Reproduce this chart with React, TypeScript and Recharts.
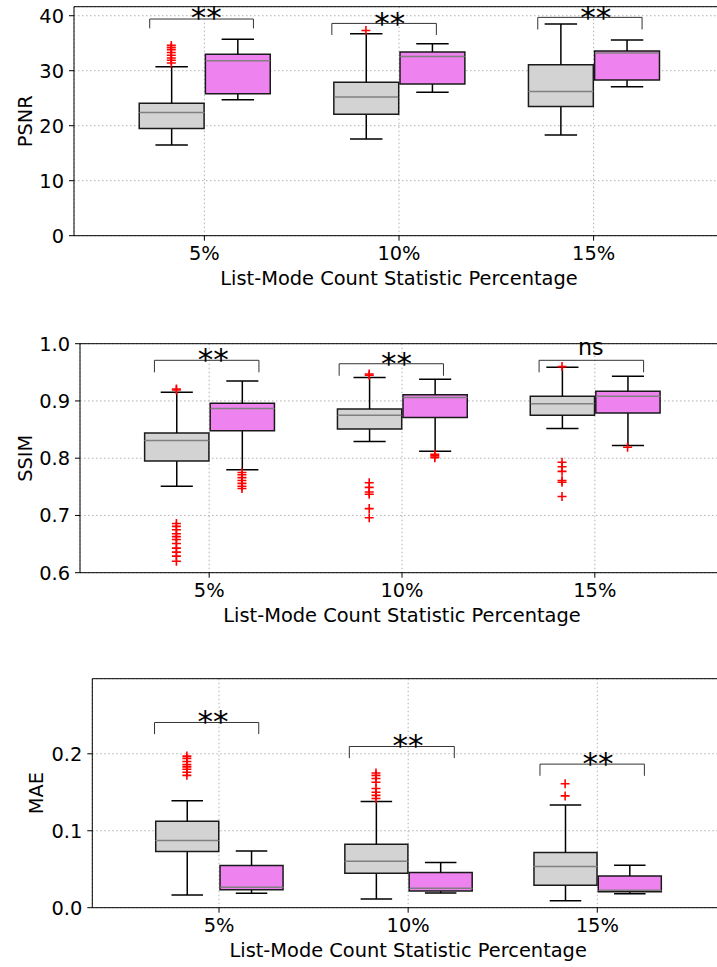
import { ComposedChart, Bar, Scatter, XAxis, YAxis, CartesianGrid, ReferenceLine, ReferenceDot } from "recharts";

const groupLabels = ["5%", "10%", "15%"];
const groupTicks = [1, 2, 3];
const xDomain = [0.33, 3.67];
const boxShift = 0.17;

// five-number summaries: [lower whisker, Q1, median, Q3, upper whisker]
const psnrGray = [
  [16.5, 19.5, 22.4, 24.1, 30.7],
  [17.6, 22.1, 25.2, 27.9, 36.7],
  [18.3, 23.5, 26.2, 31.1, 38.5],
];
const psnrPink = [
  [24.7, 25.8, 31.8, 33.0, 35.7],
  [26.1, 27.6, 32.6, 33.4, 34.9],
  [27.1, 28.3, 33.2, 33.6, 35.6],
];
const psnrGrayOut = [[31.4, 31.9, 32.3, 32.8, 33.3, 33.8, 34.2, 34.6], [37.3], []];
const psnrPinkOut = [[], [], []];
// brackets: [x start, x end, bar level, tip level]
const psnrBrackets = [
  [0.719, 1.252, 39.4, 37.7],
  [1.655, 2.192, 38.6, 36.5],
  [2.713, 3.249, 39.7, 37.5],
];
const psnrMarks = ["**", "**", "**"];
const psnrMarkPos = [[1.010, 41.0], [1.953, 40.0], [3.011, 41.0]];

const ssimGray = [
  [0.751, 0.795, 0.831, 0.844, 0.915],
  [0.829, 0.851, 0.875, 0.886, 0.941],
  [0.852, 0.875, 0.895, 0.908, 0.959],
];
const ssimPink = [
  [0.780, 0.848, 0.887, 0.896, 0.935],
  [0.812, 0.871, 0.906, 0.911, 0.938],
  [0.822, 0.879, 0.908, 0.917, 0.943],
];
const ssimGrayOut = [
  [0.919, 0.921, 0.686, 0.681, 0.675, 0.668, 0.663, 0.658, 0.651, 0.643, 0.636, 0.629, 0.62],
  [0.947, 0.945, 0.757, 0.749, 0.741, 0.737, 0.712, 0.696],
  [0.96, 0.793, 0.785, 0.777, 0.761, 0.758, 0.733],
];
const ssimPinkOut = [
  [0.775, 0.771, 0.766, 0.761, 0.756, 0.751, 0.747],
  [0.807, 0.804, 0.801],
  [0.819],
];
const ssimBrackets = [
  [0.716, 1.258, 0.971, 0.950],
  [1.674, 2.215, 0.965, 0.944],
  [2.711, 3.253, 0.971, 0.950],
];
const ssimMarks = ["**", "**", "ns"];
const ssimMarkPos = [[1.021, 0.986], [1.971, 0.978], [2.979, 0.990]];

const maeGray = [
  [0.0165, 0.0729, 0.0872, 0.1124, 0.139],
  [0.0113, 0.0447, 0.0604, 0.0825, 0.138],
  [0.0091, 0.0291, 0.0534, 0.0716, 0.1336],
];
const maePink = [
  [0.0187, 0.0234, 0.0265, 0.0547, 0.0738],
  [0.0191, 0.0217, 0.0252, 0.0456, 0.0586],
  [0.0182, 0.0208, 0.0226, 0.0413, 0.0552],
];
const maeGrayOut = [
  [0.197, 0.194, 0.19, 0.186, 0.183, 0.18, 0.176, 0.172],
  [0.175, 0.172, 0.168, 0.163, 0.155, 0.15, 0.146, 0.142],
  [0.161, 0.1453],
];
const maePinkOut = [[], [], []];
const maeBrackets = [
  [0.659, 1.210, 0.2407, 0.2256],
  [1.689, 2.244, 0.2095, 0.1944],
  [2.697, 3.249, 0.1866, 0.1714],
];
const maeMarks = ["**", "**", "**"];
const maeMarkPos = [[0.968, 0.2518], [1.999, 0.2202], [3.004, 0.1965]];

const GRAY = "#d3d3d3";
const PINK = "#ee82ee";
const FONT = "DejaVu Sans";
const FS = 19.4;
const TOP_PAD = 26.7;

function buildRows(gray: number[][], pink: number[][]) {
  const rows: any[] = [];
  groupTicks.forEach((g, i) => {
    [gray[i], pink[i]].forEach((s, k) => {
      const [lo, q1, med, q3, hi] = s;
      rows.push({
        x: g + (k ? boxShift : -boxShift),
        base: lo,
        wl: q1 - lo,
        bl: med - q1,
        bu: q3 - med,
        wu: hi - q3,
        fill: k ? PINK : GRAY,
      });
    });
  });
  return rows;
}

function buildOutliers(grayOut: number[][], pinkOut: number[][]) {
  const pts: any[] = [];
  groupTicks.forEach((g, i) => {
    grayOut[i].forEach((y) => pts.push({ x: g - boxShift, y }));
    pinkOut[i].forEach((y) => pts.push({ x: g + boxShift, y }));
  });
  return pts;
}

const edge = (p: any) => {
  const top = Math.min(p.y, p.y + p.height);
  const bot = Math.max(p.y, p.y + p.height);
  return { top, bot, l: p.x, r: p.x + p.width, cx: p.x + p.width / 2, w: p.width };
};

const Empty = () => null;

function LowWhisker(p: any) {
  if (p.x == null || p.y == null) return null;
  const { top, bot, cx, w } = edge(p);
  return (
    <g stroke="#000" strokeWidth={1.5}>
      <line x1={cx} x2={cx} y1={top} y2={bot} />
      <line x1={cx - w / 4} x2={cx + w / 4} y1={bot} y2={bot} />
    </g>
  );
}

function HighWhisker(p: any) {
  if (p.x == null || p.y == null) return null;
  const { top, bot, cx, w } = edge(p);
  return (
    <g stroke="#000" strokeWidth={1.5}>
      <line x1={cx} x2={cx} y1={top} y2={bot} />
      <line x1={cx - w / 4} x2={cx + w / 4} y1={top} y2={top} />
    </g>
  );
}

function BoxLow(p: any) {
  if (p.x == null || p.y == null) return null;
  const { top, bot, l, r } = edge(p);
  return (
    <g>
      <rect x={l} y={top} width={r - l} height={bot - top} fill={p.payload?.fill} />
      <path d={`M${l},${top}L${l},${bot}L${r},${bot}L${r},${top}`} fill="none" stroke="#1a1a1a" strokeWidth={1.5} />
    </g>
  );
}

function BoxHigh(p: any) {
  if (p.x == null || p.y == null) return null;
  const { top, bot, l, r } = edge(p);
  return (
    <g>
      <rect x={l} y={top} width={r - l} height={bot - top} fill={p.payload?.fill} />
      <path d={`M${l},${bot}L${l},${top}L${r},${top}L${r},${bot}`} fill="none" stroke="#1a1a1a" strokeWidth={1.5} />
      <line x1={l + 0.75} x2={r - 0.75} y1={bot} y2={bot} stroke="#808080" strokeWidth={1.5} />
    </g>
  );
}

function Plus(p: any) {
  const { cx, cy } = p;
  if (cx == null || cy == null) return null;
  return <path d={`M${cx - 4.5},${cy}h9M${cx},${cy - 4.5}v9`} stroke="#ff0000" strokeWidth={1.6} />;
}

function MarkText(p: any) {
  const { cx, cy, text } = p;
  const fs = text === "ns" ? 22.2 : 31;
  const dy = text === "ns" ? 0.27 * fs : 0.58 * fs;
  return (
    <text x={cx} y={cy + dy} textAnchor="middle" fontSize={fs} fontFamily={FONT} fill="#000">
      {text}
    </text>
  );
}

function YTitle(p: any) {
  const vb = p.viewBox || {};
  const cy = (vb.y ?? 0) + (vb.height ?? 0) / 2;
  const x = p.bx;
  return (
    <text x={x} y={cy} transform={`rotate(-90 ${x} ${cy})`} textAnchor="middle" fontSize={FS} fontFamily={FONT} fill="#000">
      {p.text}
    </text>
  );
}

function XTitle(p: any) {
  const vb = p.viewBox || {};
  const cx = (vb.x ?? 0) + (vb.width ?? 0) / 2;
  const y = (vb.y ?? 0) + 49.3;
  return (
    <text x={cx} y={y} textAnchor="middle" fontSize={FS} fontFamily={FONT} fill="#000">
      List-Mode Count Statistic Percentage
    </text>
  );
}

interface PanelCfg {
  plotTop: number;
  left: number;
  title: string;
  titleX: number;
  yDomain: number[];
  yTicks: number[];
  fmt: (v: number) => string;
  gray: number[][];
  pink: number[][];
  grayOut: number[][];
  pinkOut: number[][];
  brackets: number[][];
  marks: string[];
  markPos: number[][];
}

function BoxPanel({ cfg }: { cfg: PanelCfg }) {
  const W = 724;
  const H = TOP_PAD + 229 + 64.3;
  const unit = (W - cfg.left) / (xDomain[1] - xDomain[0]);
  const barSize = unit / 3;
  const rows = buildRows(cfg.gray, cfg.pink);
  const outliers = buildOutliers(cfg.grayOut, cfg.pinkOut);
  const axisStyle = { stroke: "#000", strokeWidth: 1 };
  const tickStyle = { fontSize: FS, fontFamily: FONT, fill: "#000" };
  return (
    <div style={{ position: "absolute", left: 0, top: cfg.plotTop - TOP_PAD }}>
      <ComposedChart
        width={W}
        height={H}
        data={rows}
        margin={{ top: TOP_PAD, right: 0, bottom: 0, left: 0 }}
        style={{ overflow: "visible" }}
      >
        <CartesianGrid stroke="#b0b0b0" strokeDasharray="1.5 2.5" />
        <XAxis
          dataKey="x"
          type="number"
          domain={xDomain}
          allowDataOverflow
          ticks={groupTicks}
          interval={0}
          tickFormatter={(v: number) => groupLabels[groupTicks.indexOf(v)]}
          height={64.3}
          tickSize={5}
          tickMargin={5.5}
          axisLine={axisStyle}
          tickLine={axisStyle}
          tick={tickStyle}
          label={<XTitle />}
        />
        <YAxis
          type="number"
          domain={cfg.yDomain}
          allowDataOverflow
          ticks={cfg.yTicks}
          interval={0}
          tickFormatter={cfg.fmt}
          width={cfg.left}
          tickSize={5}
          tickMargin={5}
          axisLine={axisStyle}
          tickLine={axisStyle}
          tick={tickStyle}
          label={<YTitle text={cfg.title} bx={cfg.titleX} />}
        />
        <Bar dataKey="base" stackId="b" barSize={barSize} shape={Empty} isAnimationActive={false} />
        <Bar dataKey="wl" stackId="b" barSize={barSize} shape={LowWhisker} isAnimationActive={false} />
        <Bar dataKey="bl" stackId="b" barSize={barSize} shape={BoxLow} isAnimationActive={false} />
        <Bar dataKey="bu" stackId="b" barSize={barSize} shape={BoxHigh} isAnimationActive={false} />
        <Bar dataKey="wu" stackId="b" barSize={barSize} shape={HighWhisker} isAnimationActive={false} />
        <Scatter data={outliers} dataKey="y" shape={Plus} isAnimationActive={false} />
        <ReferenceLine y={cfg.yDomain[1]} stroke="#000" strokeWidth={1} ifOverflow="visible" />
        <ReferenceLine x={xDomain[1]} stroke="#000" strokeWidth={1} ifOverflow="visible" />
        {cfg.brackets.map(([x0, x1, lv, tip], i) => (
          <ReferenceLine
            key={"b" + i}
            segment={[{ x: x0, y: tip }, { x: x0, y: lv }]}
            stroke="#333"
            strokeWidth={1}
            ifOverflow="visible"
          />
        ))}
        {cfg.brackets.map(([x0, x1, lv], i) => (
          <ReferenceLine
            key={"m" + i}
            segment={[{ x: x0, y: lv }, { x: x1, y: lv }]}
            stroke="#333"
            strokeWidth={1}
            ifOverflow="visible"
          />
        ))}
        {cfg.brackets.map(([x0, x1, lv, tip], i) => (
          <ReferenceLine
            key={"e" + i}
            segment={[{ x: x1, y: lv }, { x: x1, y: tip }]}
            stroke="#333"
            strokeWidth={1}
            ifOverflow="visible"
          />
        ))}
        {cfg.marks.map((m, i) => (
          <ReferenceDot
            key={"t" + i}
            x={cfg.markPos[i][0]}
            y={cfg.markPos[i][1]}
            r={1}
            ifOverflow="visible"
            shape={(p: any) => <MarkText cx={p.cx} cy={p.cy} text={m} />}
          />
        ))}
      </ComposedChart>
    </div>
  );
}

const panels: PanelCfg[] = [
  {
    plotTop: 6.7, left: 74, title: "PSNR", titleX: 32,
    yDomain: [0, 41.64], yTicks: [0, 10, 20, 30, 40], fmt: (v) => String(v),
    gray: psnrGray, pink: psnrPink, grayOut: psnrGrayOut, pinkOut: psnrPinkOut,
    brackets: psnrBrackets, marks: psnrMarks, markPos: psnrMarkPos,
  },
  {
    plotTop: 343.3, left: 80, title: "SSIM", titleX: 32,
    yDomain: [0.6, 1.0], yTicks: [0.6, 0.7, 0.8, 0.9, 1.0], fmt: (v) => v.toFixed(1),
    gray: ssimGray, pink: ssimPink, grayOut: ssimGrayOut, pinkOut: ssimPinkOut,
    brackets: ssimBrackets, marks: ssimMarks, markPos: ssimMarkPos,
  },
  {
    plotTop: 679, left: 92.3, title: "MAE", titleX: 43.5,
    yDomain: [0, 0.2976], yTicks: [0, 0.1, 0.2], fmt: (v) => v.toFixed(1),
    gray: maeGray, pink: maePink, grayOut: maeGrayOut, pinkOut: maePinkOut,
    brackets: maeBrackets, marks: maeMarks, markPos: maeMarkPos,
  },
];

export default function App() {
  return (
    <div style={{ position: "absolute", left: 0, top: 0, width: 717, height: 967, overflow: "hidden", background: "#fff" }}>
      {panels.map((cfg) => (
        <BoxPanel key={cfg.title} cfg={cfg} />
      ))}
    </div>
  );
}
